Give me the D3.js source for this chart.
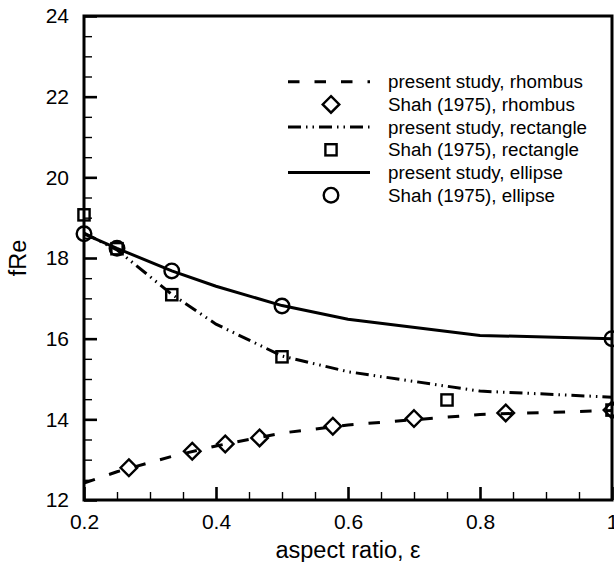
<!DOCTYPE html>
<html>
<head>
<meta charset="utf-8">
<script src="https://cdn.jsdelivr.net/npm/d3@7"></script>
<style>
  html, body { margin: 0; padding: 0; background: #fff; }
  svg { display: block; font-family: "Liberation Sans", Arial, sans-serif; }
</style>
</head>
<body>
<svg id="chart" width="614" height="562"></svg>
<script>
// ---- data ----
const studyX = [0.2, 0.25, 0.333, 0.4, 0.5, 0.6, 0.8, 1.0];
const rhombusStudy = [12.42, 12.70, 13.08, 13.34, 13.66, 13.86, 14.12, 14.22];
const rectangleStudy = [18.62, 18.20, 17.10, 16.36, 15.57, 15.18, 14.70, 14.55];
const ellipseStudy = [18.60, 18.24, 17.68, 17.30, 16.82, 16.48, 16.08, 16.00];

const shahRhombusX = [0.268, 0.364, 0.414, 0.466, 0.577, 0.700, 0.839, 1.0];
const shahRhombusY = [12.80, 13.21, 13.39, 13.54, 13.83, 14.02, 14.16, 14.23];
const shahRectX = [0.2, 0.25, 0.333, 0.5, 0.75, 1.0];
const shahRectY = [19.07, 18.23, 17.09, 15.55, 14.48, 14.23];
const shahEllipseX = [0.2, 0.25, 0.333, 0.5, 1.0];
const shahEllipseY = [18.60, 18.24, 17.68, 16.81, 16.00];

const xTicks = [0.2, 0.4, 0.6, 0.8, 1.0];
const xTickLabels = ["0.2", "0.4", "0.6", "0.8", "1"];
const xMinor = [0.25, 0.3, 0.35, 0.45, 0.5, 0.55, 0.65, 0.7, 0.75, 0.85, 0.9, 0.95];
const yTicks = [12, 14, 16, 18, 20, 22, 24];
const yTickLabels = ["12", "14", "16", "18", "20", "22", "24"];
const yMinor = [12.5, 13, 13.5, 14.5, 15, 15.5, 16.5, 17, 17.5, 18.5, 19, 19.5, 20.5, 21, 21.5, 22.5, 23, 23.5];

const legendLabels = [
  "present study, rhombus", "Shah (1975), rhombus",
  "present study, rectangle", "Shah (1975), rectangle",
  "present study, ellipse", "Shah (1975), ellipse"
];

// ---- chart ----
const svg = d3.select("#chart");
const L = 84, R = 612, T = 16, B = 500;
const x = d3.scaleLinear().domain([0.2, 1.0]).range([L, R]);
const y = d3.scaleLinear().domain([12, 24]).range([B, T]);

const dashStyles = {
  rhombus: "11.5,15",
  rectangle: "13,5,1.5,5,1.5,5",
  ellipse: null
};

svg.append("defs").append("clipPath").attr("id", "clip")
  .append("rect").attr("x", L).attr("y", T).attr("width", R - L).attr("height", B - T);

const line = d3.line().x(d => x(d[0])).y(d => y(d[1]));
const lines = [
  { ys: rhombusStudy, dash: dashStyles.rhombus },
  { ys: rectangleStudy, dash: dashStyles.rectangle },
  { ys: ellipseStudy, dash: dashStyles.ellipse }
];
const lg = svg.append("g").attr("clip-path", "url(#clip)");
lines.forEach(s => {
  lg.append("path")
    .datum(studyX.map((v, i) => [v, s.ys[i]]))
    .attr("d", line)
    .attr("fill", "none")
    .attr("stroke", "#000")
    .attr("stroke-width", 3)
    .attr("stroke-dasharray", s.dash);
});

// markers
function drawMarker(g, type, cx, cy) {
  if (type === "diamond") {
    const h = 8.3;
    g.append("path")
      .attr("d", `M${cx},${cy - h}L${cx + h},${cy}L${cx},${cy + h}L${cx - h},${cy}Z`)
      .attr("fill", "none").attr("stroke", "#000").attr("stroke-width", 2.4);
  } else if (type === "square") {
    const s = 5.6;
    g.append("rect").attr("x", cx - s).attr("y", cy - s).attr("width", 2 * s).attr("height", 2 * s)
      .attr("fill", "none").attr("stroke", "#000").attr("stroke-width", 2.4);
  } else {
    g.append("circle").attr("cx", cx).attr("cy", cy).attr("r", 7.3)
      .attr("fill", "none").attr("stroke", "#000").attr("stroke-width", 2.4);
  }
}

// axes
const fontTick = 21;
const xAxis = svg.append("g").attr("transform", `translate(0,${B})`)
  .call(d3.axisBottom(x).tickValues(xTicks).tickFormat((d, i) => xTickLabels[i])
    .tickSize(-13).tickSizeOuter(0).tickPadding(14));
xAxis.select(".domain").remove();
xAxis.selectAll("line").attr("stroke-width", 2.6);
xAxis.selectAll("text").attr("font-size", fontTick).attr("font-family", "Liberation Sans, Arial, sans-serif").attr("fill", "#000");

const xAxisMinor = svg.append("g").attr("transform", `translate(0,${B})`)
  .call(d3.axisBottom(x).tickValues(xMinor).tickFormat("").tickSize(-8).tickSizeOuter(0));
xAxisMinor.select(".domain").remove();
xAxisMinor.selectAll("line").attr("stroke-width", 1.4);

const yAxis = svg.append("g").attr("transform", `translate(${L},0)`)
  .call(d3.axisLeft(y).tickValues(yTicks).tickFormat((d, i) => yTickLabels[i])
    .tickSize(-13).tickSizeOuter(0).tickPadding(15));
yAxis.select(".domain").remove();
yAxis.selectAll("line").attr("stroke-width", 2.6);
yAxis.selectAll("text").attr("font-size", fontTick).attr("font-family", "Liberation Sans, Arial, sans-serif").attr("fill", "#000");

const yAxisMinor = svg.append("g").attr("transform", `translate(${L},0)`)
  .call(d3.axisLeft(y).tickValues(yMinor).tickFormat("").tickSize(-8).tickSizeOuter(0));
yAxisMinor.select(".domain").remove();
yAxisMinor.selectAll("line").attr("stroke-width", 1.4);

// frame
svg.append("rect").attr("x", L).attr("y", T).attr("width", R - L).attr("height", B - T)
  .attr("fill", "none").attr("stroke", "#000").attr("stroke-width", 3);

// data markers (on top, unclipped)
const mg = svg.append("g");
shahRhombusX.forEach((v, i) => drawMarker(mg, "diamond", x(v), y(shahRhombusY[i])));
shahRectX.forEach((v, i) => drawMarker(mg, "square", x(v), y(shahRectY[i])));
shahEllipseX.forEach((v, i) => drawMarker(mg, "circle", x(v), y(shahEllipseY[i])));

// axis titles
svg.append("text").attr("x", (L + R) / 2).attr("y", 558).attr("text-anchor", "middle")
  .attr("font-size", 23.5).attr("fill", "#000").text("aspect ratio, ε");
svg.append("text").attr("transform", "translate(26,258) rotate(-90)").attr("text-anchor", "middle")
  .attr("font-size", 23.5).attr("fill", "#000").text("fRe");

// legend
const legY0 = 81.7, legStep = 22.7;
const legendItems = [
  { kind: "line", dash: dashStyles.rhombus },
  { kind: "diamond" },
  { kind: "line", dash: dashStyles.rectangle },
  { kind: "square" },
  { kind: "line", dash: dashStyles.ellipse },
  { kind: "circle" }
];
const leg = svg.append("g");
legendItems.forEach((it, i) => {
  const cy = legY0 + i * legStep;
  if (it.kind === "line") {
    leg.append("line").attr("x1", 288).attr("x2", 370).attr("y1", cy).attr("y2", cy)
      .attr("stroke", "#000").attr("stroke-width", 3).attr("stroke-dasharray", it.dash);
  } else {
    drawMarker(leg, it.kind, 331, cy);
  }
  leg.append("text").attr("x", 388).attr("y", cy).attr("dy", "0.35em")
    .attr("font-size", 18.8).attr("fill", "#000").text(legendLabels[i]);
});
</script>
</body>
</html>
